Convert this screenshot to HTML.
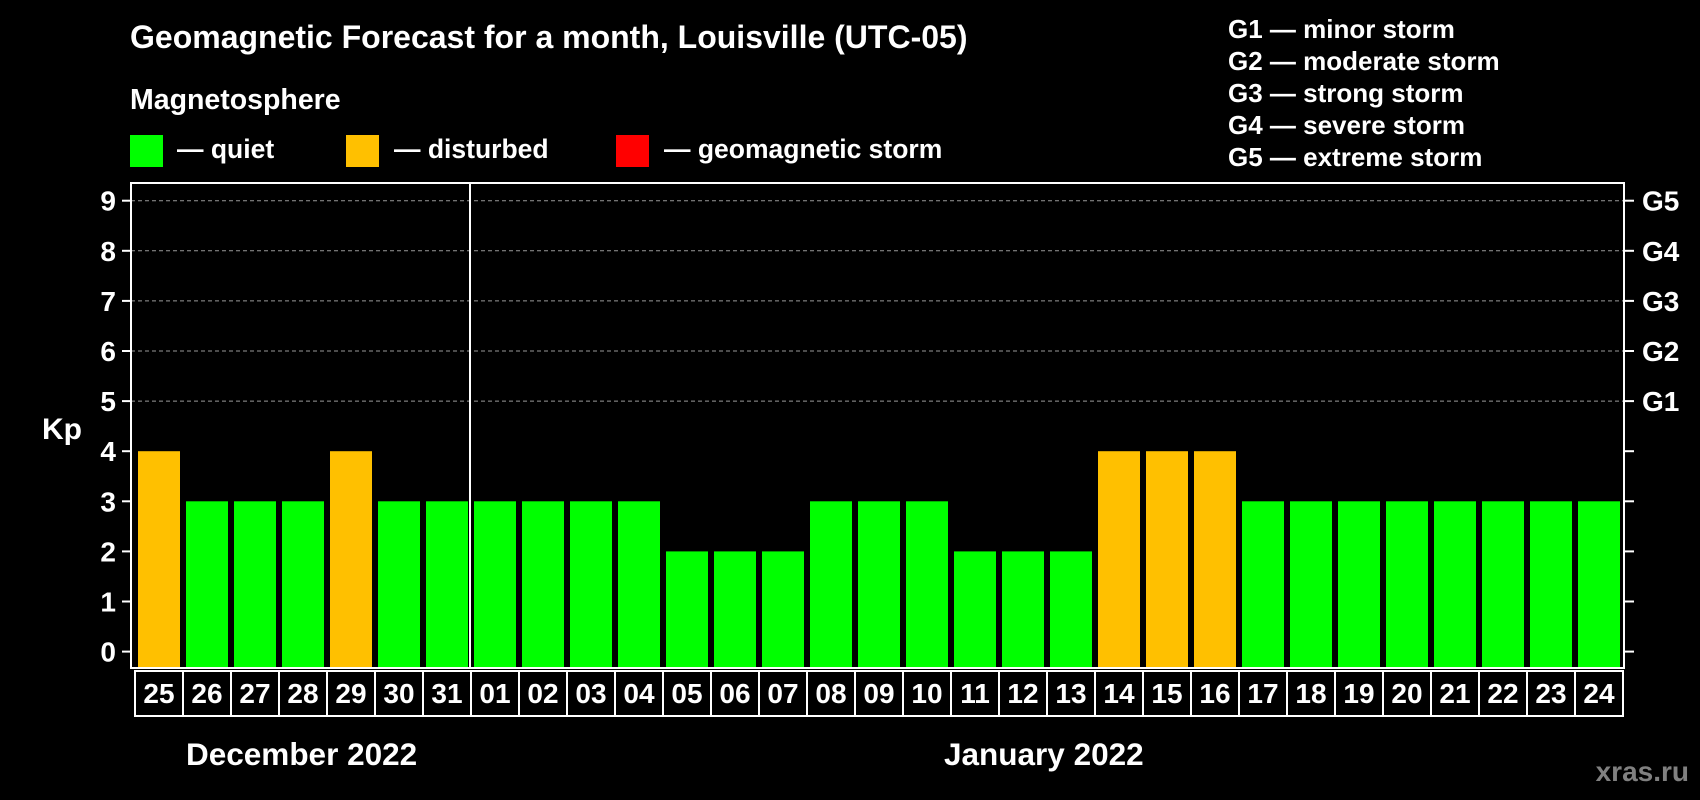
<!DOCTYPE html>
<html><head><meta charset="utf-8"><style>
html,body{margin:0;padding:0;background:#000;}
svg{display:block;font-family:"Liberation Sans",Arial,sans-serif;font-weight:bold;}
</style></head><body>
<svg id="chart" width="1700" height="800" viewBox="0 0 1700 800">
<rect x="0" y="0" width="1700" height="800" fill="#000"/>
<text x="130" y="48" font-size="32" fill="#fff">Geomagnetic Forecast for a month, Louisville (UTC-05)</text>
<text x="130" y="109" font-size="28.5" fill="#fff">Magnetosphere</text>
<g>
<rect x="130" y="135" width="33" height="32" fill="#00ff00"/>
<text x="177" y="158" font-size="26.5" fill="#fff">— quiet</text></g>
<g>
<rect x="346" y="135" width="33" height="32" fill="#ffc000"/>
<text x="394" y="158" font-size="26.5" fill="#fff">— disturbed</text></g>
<g>
<rect x="616" y="135" width="33" height="32" fill="#ff0000"/>
<text x="664" y="158" font-size="26.5" fill="#fff">— geomagnetic storm</text></g>
<g font-size="26" fill="#fff">
<text x="1228" y="38">G1 — minor storm</text>
<text x="1228" y="70">G2 — moderate storm</text>
<text x="1228" y="102">G3 — strong storm</text>
<text x="1228" y="134">G4 — severe storm</text>
<text x="1228" y="166">G5 — extreme storm</text>
</g>
<text x="42" y="439" font-size="30" fill="#fff">Kp</text>
<text x="186" y="765" font-size="31.5" fill="#fff">December 2022</text>
<text x="944" y="765" font-size="31.5" fill="#fff">January 2022</text>
<text x="1689" y="781" font-size="28" fill="#808080" text-anchor="end">xras.ru</text>
<g id="plot"></g>
</svg>
<script>
const days = ["25","26","27","28","29","30","31","01","02","03","04","05","06","07","08","09","10","11","12","13","14","15","16","17","18","19","20","21","22","23","24"];
const kpValues = [4,3,3,3,4,3,3,3,3,3,3,2,2,2,3,3,3,2,2,2,4,4,4,3,3,3,3,3,3,3,3];
const yTicks = [0,1,2,3,4,5,6,7,8,9];
const gLabels = ["G1","G2","G3","G4","G5"];
const gLevels = [5,6,7,8,9];

const NS = "http://www.w3.org/2000/svg";
const plot = document.getElementById("plot");
const L = 131, R = 1624, T = 183, B = 668;
const y = v => 651.6 - 50.1 * v;
const x = i => 138 + 48 * i;
const barW = 42;
function mk(tag, attrs, parent) {
  const e = document.createElementNS(NS, tag);
  for (const k in attrs) e.setAttribute(k, attrs[k]);
  (parent || plot).appendChild(e);
  return e;
}
gLevels.forEach(v => {
  const g = mk("line", {x1: L, x2: R, y1: y(v), y2: y(v), stroke: "#999", "stroke-width": 1, "stroke-dasharray": "4 3"});
  
  
});
kpValues.forEach((v, i) => {
  const col = v >= 5 ? "#ff0000" : (v >= 4 ? "#ffc000" : "#00ff00");
  const b = mk("rect", {x: x(i), y: y(v), width: barW, height: B - y(v), fill: col});
  
  
});
const fr = mk("rect", {x: L, y: T, width: R - L, height: B - T, fill: "none", stroke: "#fff", "stroke-width": 2});


const div = mk("line", {x1: 470, x2: 470, y1: T, y2: B, stroke: "#fff", "stroke-width": 2});


yTicks.forEach(v => {
  const t = mk("line", {x1: 122, x2: L, y1: y(v), y2: y(v), stroke: "#fff", "stroke-width": 2});
  
  
  const t2 = mk("line", {x1: R, x2: 1634, y1: y(v), y2: y(v), stroke: "#fff", "stroke-width": 2});
  
  
  const lb = mk("text", {x: 116, y: y(v) + 10, "font-size": 28, fill: "#fff", "text-anchor": "end"});
  lb.textContent = v;
  
  
});
gLabels.forEach((g, i) => {
  const lb = mk("text", {x: 1642, y: y(gLevels[i]) + 10, "font-size": 28, fill: "#fff"});
  lb.textContent = g;
  
  
});
days.forEach((d, i) => {
  const cx = 135 + 48 * i;
  const c = mk("rect", {x: cx, y: 671, width: 48, height: 45, fill: "none", stroke: "#fff", "stroke-width": 2});
  
  
  const t = mk("text", {x: cx + 24, y: 703, "font-size": 28, fill: "#fff", "text-anchor": "middle"});
  t.textContent = d;
  
  
});
</script>
</body></html>
